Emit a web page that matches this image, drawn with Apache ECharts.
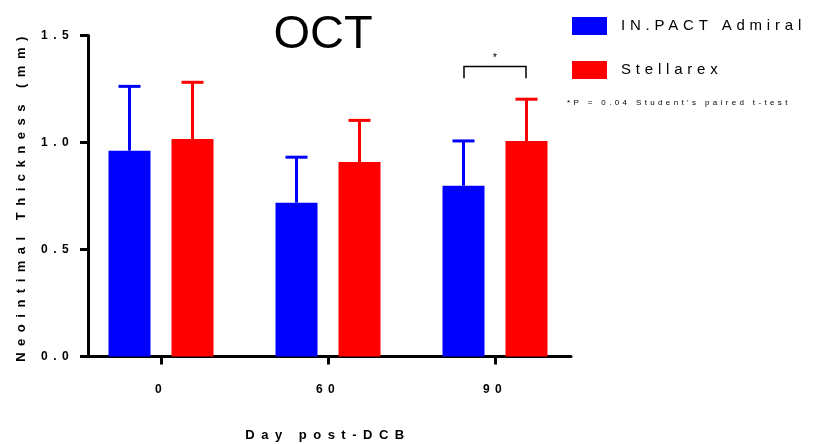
<!DOCTYPE html>
<html>
<head>
<meta charset="utf-8">
<script src="https://cdn.jsdelivr.net/npm/echarts@6/dist/echarts.min.js"></script>
<style>
html,body{margin:0;padding:0;background:#fff;}
#c{width:819px;height:444px;}
</style>
</head>
<body>
<div id="c"></div>
<script>
var categories = ['0', '60', '90'];
var seriesNames = ['IN.PACT Admiral', 'Stellarex'];
var admiralMean = [0.962, 0.719, 0.798];
var admiralErrTop = [1.267, 0.936, 1.012];
var stellarexMean = [1.016, 0.909, 1.007];
var stellarexErrTop = [1.286, 1.108, 1.207];
var yTicks = [0, 0.5, 1.0, 1.5];
var sigCategory = 2;
var sigBracket = [1.30, 1.355];
var sigLabel = '*';
var footnote = '*P = 0.04 Student\'s paired t-test';

var FONT = 'Liberation Sans, Arial, sans-serif';
var BLUE = '#0000FF', RED = '#FF0000';
var BAR_W = 42;

// Letter spacing (in em) by font size, to mimic the spaced-out typography of the original.
var LETTER_SPACING = { 8: 0.42, 12: 0.45, 13: 0.5, 15: 0.32 };
(function () {
  var proto = CanvasRenderingContext2D.prototype;
  if (!('letterSpacing' in proto)) return;
  var orig = proto.fillText;
  proto.fillText = function (t, x, y, w) {
    var m = /(\d+(?:\.\d+)?)px/.exec(this.font || '');
    var size = m ? parseFloat(m[1]) : 0;
    var ls = LETTER_SPACING[Math.round(size)];
    var prev = this.letterSpacing;
    this.letterSpacing = ls ? (ls * size) + 'px' : '0px';
    if (w === undefined) orig.call(this, t, x, y); else orig.call(this, t, x, y, w);
    this.letterSpacing = prev;
  };
})();

var chart = echarts.init(document.getElementById('c'));

function errData(errTop, mean, side) {
  return categories.map(function (c, i) { return [i, mean[i], errTop[i], side]; });
}

function renderErr(params, api) {
  var cat = api.value(0), lo = api.value(1), hi = api.value(2), side = api.value(3);
  var off = side * BAR_W * 0.75;
  var pLo = api.coord([cat, lo]);
  var pHi = api.coord([cat, hi]);
  var x = pLo[0] + off;
  var color = side < 0 ? BLUE : RED;
  return {
    type: 'group',
    children: [
      { type: 'line', shape: { x1: x, y1: pLo[1], x2: x, y2: pHi[1] + 1 }, style: { stroke: color, lineWidth: 3 } },
      { type: 'line', shape: { x1: x - 11, y1: pHi[1] + 1, x2: x + 11, y2: pHi[1] + 1 }, style: { stroke: color, lineWidth: 3 } }
    ]
  };
}

function renderSig(params, api) {
  var cat = api.value(0), lo = api.value(1), hi = api.value(2);
  var pLo = api.coord([cat, lo]);
  var pHi = api.coord([cat, hi]);
  var off = BAR_W * 0.75;
  var xl = pLo[0] - off + 0.5, xr = pLo[0] + off - 0.5;
  return {
    type: 'group',
    children: [
      { type: 'polyline', shape: { points: [[xl, pLo[1]], [xl, pHi[1]], [xr, pHi[1]], [xr, pLo[1]]] }, style: { stroke: '#000', lineWidth: 1.5, fill: null } },
      { type: 'text', x: (xl + xr) / 2, y: pHi[1] - 3, style: { text: sigLabel, fill: '#000', font: '11px ' + FONT, align: 'center', verticalAlign: 'bottom' } }
    ]
  };
}

var option = {
  backgroundColor: '#fff',
  animation: false,
  title: {
    text: 'OCT', left: 318, top: 7, textAlign: 'center',
    textStyle: { fontFamily: FONT, fontSize: 47, fontWeight: 'normal', color: '#000' }
  },
  legend: {
    orient: 'vertical', left: 567, top: 12,
    itemWidth: 35, itemHeight: 18, itemGap: 26,
    icon: 'rect',
    data: seriesNames,
    textStyle: { fontFamily: FONT, fontSize: 15, color: '#000', padding: [0, 0, 0, 9] }
  },
  graphic: [
    { type: 'text', left: 567, top: 99, style: { text: footnote, fill: '#000', font: '8px ' + FONT } }
  ],
  grid: [
    { left: 77.5, width: 501, top: 35.5, height: 321, outerBoundsMode: 'none', containLabel: false },
    { left: 88, width: 483, top: 35.5, height: 321, outerBoundsMode: 'none', containLabel: false }
  ],
  xAxis: [
    {
      type: 'category', gridIndex: 0, data: categories,
      axisLine: { show: false },
      axisTick: { show: true, alignWithLabel: true, length: 8, lineStyle: { color: '#000', width: 3 } },
      axisLabel: { margin: 27, color: '#000', fontFamily: FONT, fontSize: 12, fontWeight: 'bold' },
      name: 'Day post-DCB', nameLocation: 'middle', nameGap: 72,
      nameTextStyle: { fontFamily: FONT, fontSize: 13, fontWeight: 'bold', color: '#000' }
    },
    {
      type: 'value', gridIndex: 1, min: 0, max: 1,
      axisLine: { show: true, onZero: false, lineStyle: { color: '#000', width: 3 } },
      axisTick: { show: false }, axisLabel: { show: false }, splitLine: { show: false }
    }
  ],
  yAxis: [
    {
      type: 'value', gridIndex: 0, min: yTicks[0], max: yTicks[yTicks.length - 1], interval: 0.5,
      show: false, splitLine: { show: false }
    },
    {
      type: 'value', gridIndex: 1, min: yTicks[0], max: yTicks[yTicks.length - 1], interval: 0.5,
      axisLine: { show: true, lineStyle: { color: '#000', width: 3 } },
      axisTick: { show: true, length: 8, lineStyle: { color: '#000', width: 3 } },
      axisLabel: { margin: 14, color: '#000', fontFamily: FONT, fontSize: 12, fontWeight: 'bold',
        formatter: function (v) { return v.toFixed(1); } },
      splitLine: { show: false },
      name: 'Neointimal Thickness (mm)', nameLocation: 'middle', nameGap: 60,
      nameTextStyle: { fontFamily: FONT, fontSize: 13, fontWeight: 'bold', color: '#000' }
    }
  ],
  series: [
    { name: seriesNames[0], type: 'bar', xAxisIndex: 0, yAxisIndex: 0, data: admiralMean,
      barWidth: BAR_W, barGap: '50%', itemStyle: { color: BLUE } },
    { name: seriesNames[1], type: 'bar', xAxisIndex: 0, yAxisIndex: 0, data: stellarexMean,
      barWidth: BAR_W, barGap: '50%', itemStyle: { color: RED } },
    { type: 'custom', xAxisIndex: 0, yAxisIndex: 0, renderItem: renderErr, z: 1,
      data: errData(admiralErrTop, admiralMean, -1), encode: { x: 0, y: [1, 2] } },
    { type: 'custom', xAxisIndex: 0, yAxisIndex: 0, renderItem: renderErr, z: 1,
      data: errData(stellarexErrTop, stellarexMean, 1), encode: { x: 0, y: [1, 2] } },
    { type: 'custom', xAxisIndex: 0, yAxisIndex: 0, renderItem: renderSig, z: 3,
      data: [[sigCategory, sigBracket[0], sigBracket[1]]], encode: { x: 0, y: [1, 2] } }
  ]
};
chart.setOption(option);
</script>
</body>
</html>
